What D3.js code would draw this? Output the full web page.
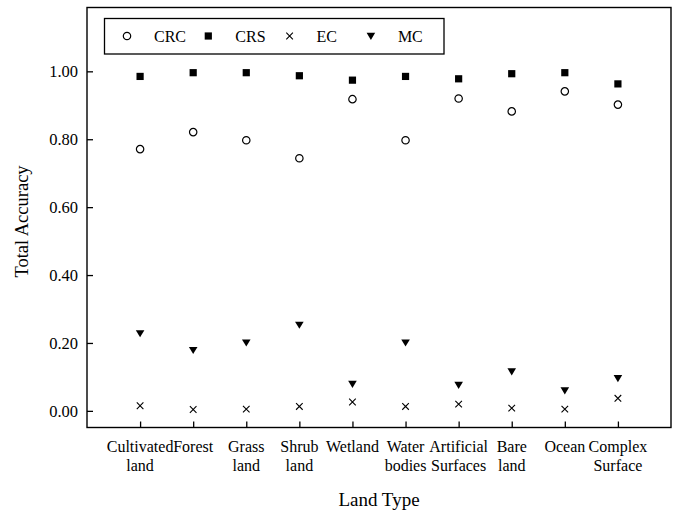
<!DOCTYPE html>
<html>
<head>
<meta charset="utf-8">
<script src="https://cdn.jsdelivr.net/npm/d3@7"></script>
<style>
  html, body { margin: 0; padding: 0; background: #fff; }
  svg { display: block; font-family: "Liberation Serif", "DejaVu Serif", serif; }
</style>
</head>
<body>
<svg id="chart" width="679" height="516"></svg>
<script>
// Land types (two-line tick labels)
const categories = [
  ["Cultivated", "land"],
  ["Forest"],
  ["Grass", "land"],
  ["Shrub", "land"],
  ["Wetland"],
  ["Water", "bodies"],
  ["Artificial", "Surfaces"],
  ["Bare", "land"],
  ["Ocean"],
  ["Complex", "Surface"]
];

// Total accuracy per method
const crc = [0.771, 0.821, 0.797, 0.744, 0.918, 0.797, 0.920, 0.882, 0.941, 0.902];
const crs = [0.985, 0.996, 0.996, 0.987, 0.974, 0.985, 0.978, 0.993, 0.996, 0.963];
const ec  = [0.015, 0.004, 0.005, 0.013, 0.026, 0.013, 0.020, 0.008, 0.005, 0.037];
const mc  = [0.228, 0.179, 0.201, 0.253, 0.079, 0.201, 0.076, 0.116, 0.060, 0.096];

const yTicks = [0, 0.2, 0.4, 0.6, 0.8, 1.0];
const seriesNames = ["CRC", "CRS", "EC", "MC"];

const svg = d3.select("#chart");
const plotLeft = 87, plotRight = 671, plotTop = 7.5, plotBottom = 427.5;

const x = d3.scaleLinear().domain([0, categories.length + 1]).range([plotLeft, plotRight]);
const y = d3.scaleLinear().domain([-0.049, 1.188]).range([plotBottom, plotTop]);

// Marker shapes
const shapes = {
  CRC: g => g.append("circle").attr("r", 3.7).attr("fill", "#fff").attr("stroke", "#000").attr("stroke-width", 1.2),
  CRS: g => g.append("rect").attr("x", -3.6).attr("y", -3.6).attr("width", 7.2).attr("height", 7.2).attr("fill", "#000"),
  EC:  g => g.append("path").attr("d", "M-3.3,-3.3L3.3,3.3M-3.3,3.3L3.3,-3.3").attr("stroke", "#000").attr("stroke-width", 1.1).attr("fill", "none"),
  MC:  g => g.append("path").attr("d", "M-4.3,-3.2L4.3,-3.2L0,3.9Z").attr("fill", "#000")
};

// Frame
svg.append("rect")
  .attr("x", plotLeft).attr("y", plotTop)
  .attr("width", plotRight - plotLeft).attr("height", plotBottom - plotTop)
  .attr("fill", "none").attr("stroke", "#000").attr("stroke-width", 1.4);

// Y axis
const yAxis = d3.axisLeft(y).tickValues(yTicks).tickSize(-6).tickPadding(9).tickFormat(d3.format(".2f"));
const gy = svg.append("g").attr("transform", `translate(${plotLeft},0)`).call(yAxis);
gy.select(".domain").remove();
gy.selectAll(".tick line").attr("stroke", "#000").attr("stroke-width", 1.3);
gy.selectAll(".tick text").attr("font-size", 16.5).attr("fill", "#000")
  .attr("font-family", "Liberation Serif, serif");

// X axis
const xAxis = d3.axisBottom(x).tickValues(d3.range(1, categories.length + 1)).tickSize(-6).tickFormat("");
const gx = svg.append("g").attr("transform", `translate(0,${plotBottom})`).call(xAxis);
gx.select(".domain").remove();
gx.selectAll(".tick line").attr("stroke", "#000").attr("stroke-width", 1.3);

// Two-line category labels
const lbl = svg.append("g").attr("font-size", 16).attr("fill", "#000").attr("text-anchor", "middle");
categories.forEach((lines, i) => {
  const t = lbl.append("text").attr("x", x(i + 1)).attr("y", 452);
  lines.forEach((s, k) => {
    t.append("tspan").attr("x", x(i + 1)).attr("dy", k === 0 ? 0 : 18.5).text(s);
  });
});

// Axis titles
svg.append("text")
  .attr("x", 379).attr("y", 506)
  .attr("text-anchor", "middle").attr("font-size", 19).text("Land Type");
svg.append("text")
  .attr("transform", "translate(28,221.5) rotate(-90)")
  .attr("text-anchor", "middle").attr("font-size", 18.5).text("Total Accuracy");

// Points
const seriesData = { CRC: crc, CRS: crs, EC: ec, MC: mc };
seriesNames.forEach(name => {
  const g = svg.append("g").attr("class", "series-" + name);
  seriesData[name].forEach((v, i) => {
    const m = g.append("g").attr("transform", `translate(${x(i + 1)},${y(v)})`);
    shapes[name](m);
  });
});

// Legend
const leg = svg.append("g");
leg.append("rect")
  .attr("x", 104.5).attr("y", 18.5).attr("width", 339.5).attr("height", 35.5)
  .attr("fill", "#fff").attr("stroke", "#000").attr("stroke-width", 1.3);
seriesNames.forEach((name, i) => {
  const cx = 127 + i * 81.3;
  const m = leg.append("g").attr("transform", `translate(${cx},36)`);
  shapes[name](m);
  leg.append("text").attr("x", cx + 27).attr("y", 41.5)
    .attr("font-size", 16).attr("fill", "#000").text(name);
});
</script>
</body>
</html>
